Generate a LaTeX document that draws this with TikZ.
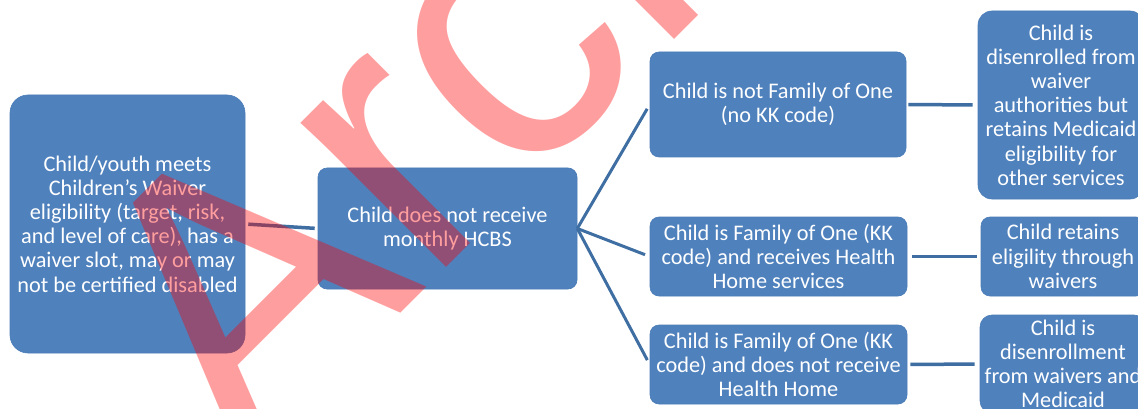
\documentclass[tikz,border=0pt]{standalone}
\usepackage{fontspec}
\setmainfont{Carlito}
\newfontfamily\wmfont{Liberation Sans}
\definecolor{boxblue}{HTML}{4F81BD}
\definecolor{boxedge}{HTML}{4A7CB8}
\definecolor{linkblue}{HTML}{3F6EA3}
\tikzset{
  box/.style={fill=boxblue, draw=boxedge, line width=0.6pt, rounded corners=#1,
    text=white, align=center, inner sep=0pt, font=\fontsize{22.3}{24.2}\selectfont},
  box/.default=8pt,
  link/.style={draw=linkblue, line width=3.5pt},
  fanlink/.style={draw=linkblue, line width=3pt},
  wm/.style={text=red, text opacity=0.38, inner sep=0pt,
    font=\wmfont\fontsize{388}{388}\selectfont}
}
\begin{document}
\begin{tikzpicture}[x=1pt,y=-1pt]
\fill[white] (0,0) rectangle (1138,409);
\useasboundingbox (0,0) rectangle (1138,409);

\node[box=18pt, minimum width=235pt, minimum height=258pt] (b1) at (127.5,224)
  {Child/youth meets\\Children's Waiver\\eligibility (target, risk,\\and level of care), has a\\waiver slot, may or may\\not be certified disabled};
\node[box=9pt, minimum width=259pt, minimum height=121pt] (b2) at (447.5,228.5)
  {Child does not receive\\monthly HCBS};
\node[box=9pt, minimum width=256pt, minimum height=105pt] (b3a) at (778,104.5)
  {Child is not Family of One\\(no KK code)};
\node[box=9pt, minimum width=257pt, minimum height=79pt] (b3b) at (778.5,256.5)
  {Child is Family of One (KK\\code) and receives Health\\Home services};
\node[box=9pt, minimum width=257pt, minimum height=79pt] (b3c) at (778.5,364.5)
  {Child is Family of One (KK\\code) and does not receive\\Health Home};
\node[box=14pt, minimum width=166pt, minimum height=188pt] (b4a) at (1061,105)
  {Child is\\disenrolled from\\waiver\\authorities but\\retains Medicaid\\eligibility for\\other services};
\node[box=9pt, minimum width=164pt, minimum height=79pt] (b4b) at (1063,256.5)
  {Child retains\\eligility through\\waivers};
\node[box=12pt, minimum width=166pt, minimum height=98pt] (b4c) at (1063,364)
  {Child is\\disenrollment\\from waivers and\\Medicaid};

\draw[link, shorten <=3pt, shorten >=3pt] (b1.east) -- (b2.west);
\coordinate (fan) at (b2.east);
\draw[fanlink, shorten >=5pt] (fan) -- (b3a.west);
\draw[fanlink, shorten >=5pt] (fan) -- (b3b.west);
\draw[fanlink, shorten >=5pt] (fan) -- (b3c.west);
\draw[link, shorten <=2pt, shorten >=5pt] (b3a.east) -- (b4a.west);
\draw[link, shorten <=5pt, shorten >=4pt] (b3b.east) -- (b4b.west);
\draw[link, shorten <=3pt, shorten >=5pt] (b3c.east) -- (b4c.west);

\begin{scope}
\clip (0,0) rectangle (1138,409);
\node[wm, rotate=45, anchor=base west] (mark) at (244,470) {Archived};
\end{scope}
\end{tikzpicture}
\end{document}
